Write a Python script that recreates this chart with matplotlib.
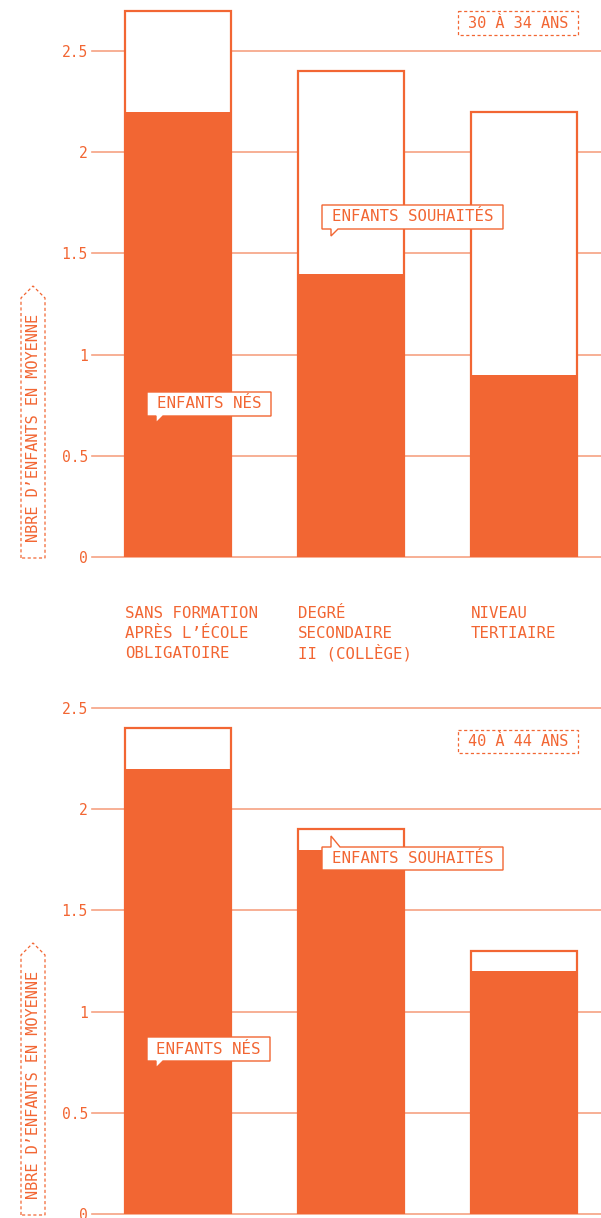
import matplotlib
matplotlib.use("Agg")
import matplotlib.pyplot as plt
from matplotlib.patches import Polygon

# ---- data ----
categories = ["SANS FORMATION\nAPRÈS L’ÉCOLE\nOBLIGATOIRE",
              "DEGRÉ\nSECONDAIRE\nII (COLLÈGE)",
              "NIVEAU\nTERTIAIRE"]
born_30_34 = [2.2, 1.4, 0.9]
desired_30_34 = [2.7, 2.4, 2.2]
born_40_44 = [2.2, 1.8, 1.2]
desired_40_44 = [2.4, 1.9, 1.3]
yticks = [0, 0.5, 1, 1.5, 2, 2.5]
ytick_labels = ["0", "0.5", "1", "1.5", "2", "2.5"]
panel_titles = ["30 À 34 ANS", "40 À 44 ANS"]
ylabel = "NBRE D’ENFANTS EN MOYENNE"
label_born = "ENFANTS NÉS"
label_desired = "ENFANTS SOUHAITÉS"

ORANGE = "#F26633"
GRID = "#F6A283"
FONT = "DejaVu Sans Mono"

W, H = 601, 1218
fig = plt.figure(figsize=(W / 100, H / 100), dpi=100)

def fxy(px, py):
    return (px / W, 1 - py / H)

PX_PER_UNIT = 202.4
BAR_SPACING = 173.0
BAR_W = 106 / BAR_SPACING

def make_axes(y_zero_px, y_top_px):
    left, bottom = fxy(92, y_zero_px)
    ax = fig.add_axes([left, bottom, (601 - 92) / W, (y_zero_px - y_top_px) / H])
    ax.set_ylim(0, (y_zero_px - y_top_px) / PX_PER_UNIT)
    ax.set_xlim(-86 / BAR_SPACING, 423 / BAR_SPACING)
    for s in ax.spines.values():
        s.set_visible(False)
    ax.set_xticks([])
    ax.set_yticks(yticks)
    ax.set_yticklabels(ytick_labels, fontfamily=FONT, fontsize=10.5, color=ORANGE)
    ax.tick_params(axis="y", length=0, pad=3)
    for t in yticks:
        ax.axhline(t, color=GRID, lw=1.2, zorder=0, clip_on=False)
    return ax

def draw_bars(ax, born, desired):
    x = list(range(len(born)))
    ax.bar(x, desired, width=BAR_W, facecolor="white", edgecolor=ORANGE,
           linewidth=1.6, zorder=2)
    ax.bar(x, born, width=BAR_W, color=ORANGE, linewidth=0, zorder=3)

def callout(x0, y0, x1, y1, text, pointer):
    # coordinates in pixels from top-left
    if pointer == "down":
        pts = [(x0, y0), (x1, y0), (x1, y1), (x0 + 16, y1), (x0 + 9, y1 + 7),
               (x0 + 9, y1), (x0, y1)]
    else:
        pts = [(x0, y0), (x0 + 9, y0), (x0 + 9, y0 - 11), (x0 + 18, y0),
               (x1, y0), (x1, y1), (x0, y1)]
    poly = Polygon([fxy(*p) for p in pts], closed=True, facecolor="white",
                   edgecolor=ORANGE, lw=1.0, transform=fig.transFigure, zorder=10)
    fig.add_artist(poly)
    cx, cy = fxy((x0 + x1) / 2, (y0 + y1) / 2)
    fig.text(cx, cy, text, ha="center", va="center", fontfamily=FONT,
             fontsize=11.3, color=ORANGE, zorder=11)

def dashed_box(x0, y0, x1, y1, text):
    pts = [(x0, y0), (x1, y0), (x1, y1), (x0, y1)]
    poly = Polygon([fxy(*p) for p in pts], closed=True, fill=False,
                   edgecolor=ORANGE, lw=0.9, linestyle=(0, (2.5, 2)),
                   transform=fig.transFigure)
    fig.add_artist(poly)
    cx, cy = fxy((x0 + x1) / 2, (y0 + y1) / 2)
    fig.text(cx, cy, text, ha="center", va="center", fontfamily=FONT,
             fontsize=11, color=ORANGE)

def ylabel_arrow(y_tip, y_bottom):
    x0, x1 = 21, 45
    xm = (x0 + x1) / 2
    pts = [(x0, y_bottom), (x0, y_tip + 12), (xm, y_tip), (x1, y_tip + 12), (x1, y_bottom)]
    poly = Polygon([fxy(*p) for p in pts], closed=True, fill=False,
                   edgecolor=ORANGE, lw=0.9, linestyle=(0, (2.5, 2)),
                   transform=fig.transFigure)
    fig.add_artist(poly)
    cx, cy = fxy(xm + 0.5, (y_tip + y_bottom) / 2 + 6)
    fig.text(cx, cy, ylabel, ha="center", va="center", rotation=90,
             fontfamily=FONT, fontsize=11, color=ORANGE)

# ---- top panel ----
ax1 = make_axes(557, 0)
draw_bars(ax1, born_30_34, desired_30_34)
for i, cat in enumerate(categories):
    for j, line in enumerate(cat.split("\n")):
        ax1.annotate(line, xy=(i - BAR_W / 2, H - (618.5 + 20 * j)),
                     xycoords=("data", "figure pixels"),
                     ha="left", va="baseline", fontfamily=FONT, fontsize=11.3,
                     color=ORANGE, annotation_clip=False)
dashed_box(458, 11, 578, 35, panel_titles[0])
callout(322, 205, 503, 229, label_desired, "down")
callout(147, 392, 271, 416, label_born, "down")
ylabel_arrow(286, 558)

# ---- bottom panel ----
ax2 = make_axes(1214, 690)
draw_bars(ax2, born_40_44, desired_40_44)
dashed_box(458, 730, 578, 753, panel_titles[1])
callout(322, 847, 503, 870, label_desired, "up")
callout(147, 1037, 270, 1061, label_born, "down")
ylabel_arrow(943, 1215)

fig.savefig("out.png", dpi=100, facecolor="white")
